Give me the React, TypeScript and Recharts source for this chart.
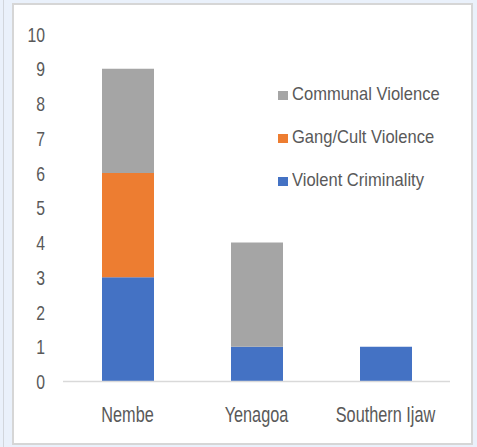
import { BarChart, Bar, XAxis, YAxis } from "recharts";

const regions = ["Nembe", "Yenagoa", "Southern Ijaw"];
const violentCriminality = [3, 1, 1];
const gangCultViolence = [3, 0, 0];
const communalViolence = [3, 3, 0];
const yTicks = [0, 1, 2, 3, 4, 5, 6, 7, 8, 9, 10];

const series = [
  { key: "violent", name: "Violent Criminality", color: "#4472C4" },
  { key: "gang", name: "Gang/Cult Violence", color: "#ED7D31" },
  { key: "communal", name: "Communal Violence", color: "#A5A5A5" },
];

const data = regions.map((region, i) => ({
  region,
  violent: violentCriminality[i],
  gang: gangCultViolence[i],
  communal: communalViolence[i],
}));

const FONT = "'Liberation Sans', Arial, sans-serif";
const TEXT = "#595959";

const YTick = ({ x, y, payload }: any) => (
  <text
    transform={`translate(${x},${y + 7.5}) scale(0.75,1)`}
    textAnchor="end"
    fill={TEXT}
    fontSize={21}
    fontFamily={FONT}
  >
    {payload.value}
  </text>
);

const XTick = ({ x, y, payload }: any) => (
  <text
    transform={`translate(${x},${y + 40.5}) scale(0.74,1)`}
    textAnchor="middle"
    fill={TEXT}
    fontSize={22}
    fontFamily={FONT}
  >
    {payload.value}
  </text>
);

// legend is listed top-down in reverse stacking order, like the original
const LegendBox = () => (
  <div style={{ position: "absolute", left: 278, top: 74, fontFamily: FONT }}>
    {[...series].reverse().map((s) => (
      <div key={s.key} style={{ height: 43, display: "flex", alignItems: "center" }}>
        <span style={{ width: 10, height: 9, background: s.color, display: "inline-block", marginRight: 4 }} />
        <span
          style={{
            fontSize: 19,
            color: TEXT,
            display: "inline-block",
            transform: "scale(0.87,1)",
            transformOrigin: "left center",
            whiteSpace: "nowrap",
            marginTop: -3,
          }}
        >
          {s.name}
        </span>
      </div>
    ))}
  </div>
);

export default function App() {
  return (
    <div style={{ position: "fixed", left: 0, top: 0, width: 477, height: 447, background: "#EAF1FB", overflow: "hidden" }}>
      <div style={{ position: "absolute", left: 3, top: 0, width: 1, height: 447, background: "#d2d6dc" }} />
      <div
        style={{
          position: "absolute",
          left: 12,
          top: 3,
          width: 457,
          height: 438,
          background: "#fff",
          border: "2px solid #d6d6d6",
        }}
      />
      <div style={{ position: "absolute", left: 0, top: 0 }}>
        <BarChart
          width={477}
          height={447}
          data={data}
          margin={{ top: 34, right: 27, bottom: 35.5, left: 23 }}
        >
          <XAxis
            dataKey="region"
            height={30}
            tick={<XTick />}
            tickLine={false}
            tickSize={0}
            tickMargin={0}
            axisLine={{ stroke: "#D9D9D9", strokeWidth: 1.5 }}
          />
          <YAxis
            width={40}
            domain={[0, 10]}
            ticks={yTicks}
            interval={0}
            tick={<YTick />}
            tickLine={false}
            tickSize={0}
            tickMargin={18}
            axisLine={false}
          />
          {series.map((s) => (
            <Bar
              key={s.key}
              dataKey={s.key}
              name={s.name}
              stackId="a"
              fill={s.color}
              barSize={52}
              isAnimationActive={false}
            />
          ))}
        </BarChart>
      </div>
      <LegendBox />
    </div>
  );
}
